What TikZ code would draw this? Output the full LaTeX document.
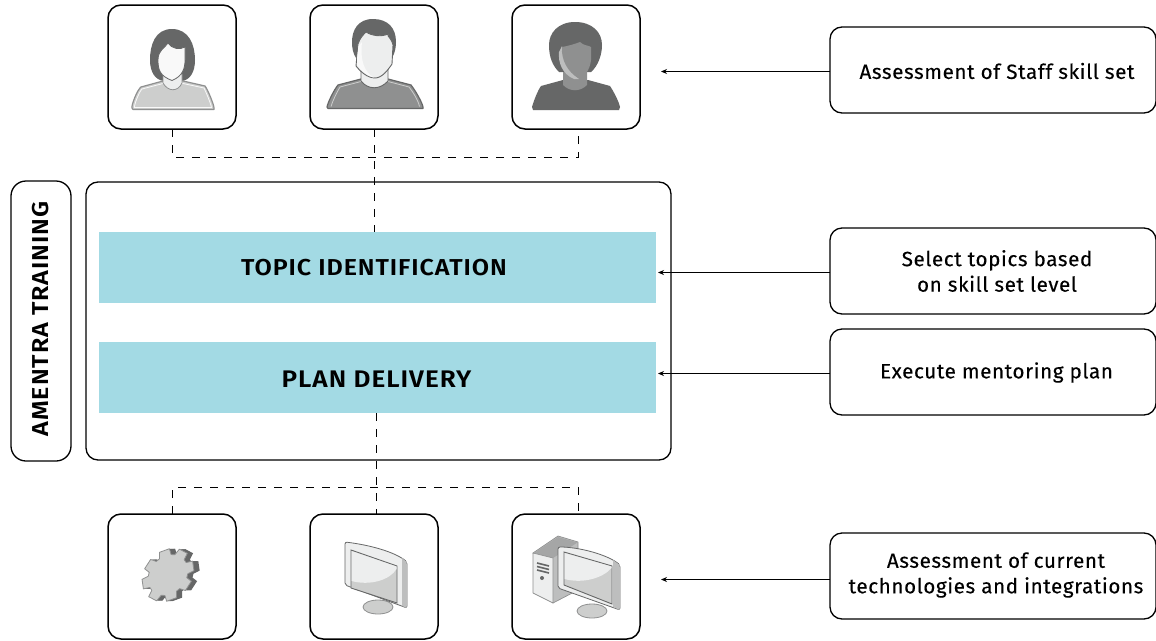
\documentclass[tikz,border=0pt]{standalone}
\usepackage{fontspec}
\setmainfont{Fira Sans}
\newfontfamily\lblfont[LetterSpace=3,FakeBold=0.25]{Fira Sans}
\newfontfamily\hdfont[LetterSpace=4,FakeStretch=1.09]{Fira Sans}[BoldFont=Fira Sans SemiBold]
\usetikzlibrary{arrows.meta}
\definecolor{barblue}{HTML}{A3DAE4}
\definecolor{gA}{HTML}{666767}
\definecolor{gB}{HTML}{8F9090}
\definecolor{gC}{HTML}{CDCECD}
\definecolor{gD}{HTML}{EDEEEE}
\definecolor{gE}{HTML}{BDBEBE}
\definecolor{gF}{HTML}{F9F9F9}
\tikzset{
 x=1pt,y=-1pt,
 iconbox/.style={draw=black,line width=1.5pt,rounded corners=13pt,fill=white},
 frame/.style={draw=black,line width=1.3pt,rounded corners=12pt,fill=white},
 notebox/.style={draw=black,line width=1.3pt,rounded corners=12pt,fill=white,minimum width=326pt,minimum height=86pt,inner sep=0pt},
 bar/.style={fill=barblue,draw=none,minimum width=557pt,minimum height=71pt,inner sep=0pt},
 note/.style={font=\lblfont\fontsize{20.6}{25.5}\selectfont,align=center},
 dashline/.style={draw=black,line width=1.3pt,dash pattern=on 8pt off 8pt},
 arrowline/.style={draw=black,line width=1.2pt,-{Stealth[length=6pt,width=5pt]}},
}
\begin{document}
\begin{tikzpicture}
\useasboundingbox (0,0) rectangle (1156,640);
\begin{scope}
\clip (0,0) rectangle (1156,640);
\coordinate (d1) at (172.5,157.5);
\coordinate (d2) at (578.5,157.5);
\coordinate (d3) at (172.5,487.5);
\coordinate (d4) at (578.5,487.5);
% icon boxes
\node[iconbox,minimum width=128pt,minimum height=124pt,inner sep=0pt] (p1) at (172,67) {};
\node[iconbox,minimum width=128pt,minimum height=124pt,inner sep=0pt] (p2) at (374,67) {};
\node[iconbox,minimum width=128pt,minimum height=124pt,inner sep=0pt] (p3) at (576,67) {};
\node[iconbox,minimum width=128pt,minimum height=125pt,inner sep=0pt] (t1) at (172,576.5) {};
\node[iconbox,minimum width=128pt,minimum height=125pt,inner sep=0pt] (t2) at (374,576.5) {};
\node[iconbox,minimum width=128pt,minimum height=125pt,inner sep=0pt] (t3) at (576,576.5) {};
% main frames
\node[frame,minimum width=585pt,minimum height=278pt,inner sep=0pt] (main) at (378.5,321) {};
\node[frame,rounded corners=15pt,minimum width=60pt,minimum height=280pt,inner sep=0pt] (side) at (41,321) {};
\node[rotate=90,font=\hdfont\bfseries\fontsize{23}{27}\selectfont] (sidet) at (41,319) {AMENTRA TRAINING};
\node[bar] (b1) at (377.5,267.5) {};
\node[font=\hdfont\bfseries\fontsize{23}{27}\selectfont] (b1t) at (374,267.5) {TOPIC IDENTIFICATION};
\node[bar] (b2) at (377.5,377.5) {};
\node[font=\hdfont\bfseries\fontsize{24}{28}\selectfont] (b2t) at (376.5,379) {PLAN DELIVERY};
% right notes
\node[notebox] (n1) at (993,70) {};
\node[note] (n1t) at (997,71) {Assessment of Staff skill set};
\node[notebox] (n2) at (993,271) {};
\node[note] (n2t) at (997,271) {Select topics based\\on skill set level};
\node[notebox] (n3) at (993,372) {};
\node[note] (n3t) at (996.5,372.5) {Execute mentoring plan};
\node[notebox] (n4) at (993,576) {};
\node[note] (n4t) at (996,575) {Assessment of current\\technologies and integrations};
% arrows
\coordinate (a1) at (661,71.5);
\coordinate (a2) at (658,272.5);
\coordinate (a3) at (658,373.5);
\coordinate (a4) at (661,579.5);
\draw[arrowline] (830,71.5) -- (a1);
\draw[arrowline] (830,272.5) -- (a2);
\draw[arrowline] (830,373.5) -- (a3);
\draw[arrowline] (830,579.5) -- (a4);
% dashed
\draw[dashline] (172.5,129) -- (d1) -- (d2) -- (578.5,129);
\draw[dashline] (374.5,129) -- (374.5,232);
\draw[dashline] (172.5,514) -- (d3) -- (d4) -- (578.5,514);
\draw[dashline] (376.5,413) -- (376.5,514);
\end{scope}
% woman
\fill[gA] (172,29) .. controls (155,29) and (150,45) .. (150,60) .. controls (150,72) and (155,80) .. (164,81) -- (182,81) .. controls (190,80) and (195,72) .. (195,60) .. controls (195,45) and (189,29) .. (172,29) -- cycle;
\path[draw=gB,fill=gC,line width=1.2pt,line join=round] (132,108) .. controls (131,106) and (137,90) .. (141,87) -- (163,81) -- (183,81) -- (205,86) .. controls (208,90) and (214,105) .. (214,108) -- (214,109.5) -- (133,109.5) -- cycle;
\path[draw=gF,line width=.8pt,line join=round] (134.5,107.5) .. controls (134,105) and (139,92) .. (142,89) -- (163,83.5) -- (183,83.5) -- (204,88) .. controls (206,92) and (211,104) .. (211.5,107.5) -- cycle;
\path[draw=gB,fill=gD,line width=.8pt] (163,74) -- (163,83) .. controls (168,92) and (178,92) .. (182,83) -- (182,74) -- cycle;
\path[draw=gA,fill=gF,line width=.8pt] (168,43) .. controls (165,48) and (158,50) .. (158,60) .. controls (158,70) and (160,76) .. (172,80.5) .. controls (183,76) and (185,68) .. (185,60) -- (185,47) .. controls (180,50) and (172,49) .. (168,43) -- cycle;
% man
\fill[gA] (373,19) .. controls (358,19) and (352,30) .. (352,42) .. controls (352,48) and (353,53) .. (356,58) -- (392,58) .. controls (395,53) and (396,47) .. (396,42) .. controls (396,28) and (388,19) .. (373,19) -- cycle;
\path[draw=gA,fill=gB,line width=1.2pt,line join=round] (327,107) .. controls (328,102) and (334,90) .. (338,85) -- (361,79) -- (388,79) -- (411,85) .. controls (415,90) and (422,102) .. (423,107) -- (423,108.5) -- (328,108.5) -- cycle;
\path[draw=gC,line width=.8pt,line join=round] (331,106.5) .. controls (333,100) and (337,92) .. (340,87) -- (361,81.5) -- (388,81.5) -- (409,87) .. controls (413,92) and (418,100) .. (419.5,106.5);
\path[draw=gA,fill=gD,line width=.9pt] (361,68) -- (361,81) .. controls (368,90) and (380,90) .. (388,81) -- (388,68) -- cycle;
\path[draw=gA,fill=gD,line width=.9pt] (358,44) .. controls (360,38) and (363,35) .. (366,32) .. controls (372,36) and (382,37) .. (388,34) .. controls (387,37) and (391,37) .. (393,45) -- (392,64) .. controls (388,70) and (382,78) .. (375,78) .. controls (367,78) and (360,71) .. (356,66) -- cycle;
\fill[gF] (358.5,46) .. controls (357,56) and (357,60) .. (357,65) .. controls (361,70) and (366,76) .. (374,77.5) .. controls (364,72) and (360,60) .. (362,42) -- cycle;
% third person
\fill[gA] (575,22) .. controls (558,22) and (549,33) .. (549,45) .. controls (549,58) and (553,66) .. (559,72) -- (591,72) .. controls (598,66) and (602,55) .. (602,45) .. controls (602,32) and (592,22) .. (575,22) -- cycle;
\fill[gA] (532,107) .. controls (534,100) and (538,90) .. (541,86) -- (563,80) -- (588,80) -- (610,86) .. controls (614,92) and (619,102) .. (620,107) -- (619,110) -- (533,110) -- cycle;
\fill[gB] (563,72) -- (563,85) .. controls (570,92) and (580,92) .. (587,85) -- (587,72) -- cycle;
\fill[gE] (559,52) .. controls (558,62) and (562,74) .. (574,79) -- (579,79) .. controls (570,72) and (562,60) .. (562,46) -- cycle;
\fill[gB] (562,47) .. controls (568,46) and (575,44) .. (580,42) .. controls (584,46) and (588,45) .. (591,47) -- (591,60) .. controls (590,70) and (584,78) .. (578,78) .. controls (568,72) and (561,60) .. (562,47) -- cycle;
% gear
\begin{scope}[shift={(168,575)},cm={1,0.22,0,1,(0,0)},rotate=8]
\foreach \dx in {5.5,4.5,3.5,2.5,1.5}{
\fill[gA,shift={(\dx,\dx*0.35)}] (-11:26) \foreach \a in {0,45,...,315}{ -- (\a-11:26) -- (\a+11:26) -- (\a+17:20) -- (\a+28:20)} -- cycle;}
\path[draw=gB,fill=gC,line width=.8pt,line join=round] (-11:26) \foreach \a in {0,45,...,315}{ -- (\a-11:26) -- (\a+11:26) -- (\a+17:20) -- (\a+28:20)} -- cycle;
\end{scope}
% monitor 1
\path[draw=gB,fill=gC,line width=.8pt] (378,607) ellipse [x radius=15pt,y radius=7pt];
\path[draw=gA,fill=gD,line width=.8pt,line join=round,rounded corners=2pt] (345,542) .. controls (370,545) and (395,552) .. (407,562) -- (407,608) -- (345,585) -- cycle;
\fill[gE] (402,558) -- (406.5,562) -- (406.5,607.5) -- (402,606) -- cycle;
\path[draw=gA,fill=gC,line width=.9pt] (351,550) -- (397,566) -- (397,603) -- (351,588) -- cycle;
\fill[gD] (351.5,551) -- (396.5,566.5) -- (396.5,569) .. controls (390,580) and (370,586) .. (351.5,581) -- cycle;
% computer
\path[draw=gB,fill=gE,line width=.7pt,line join=round] (533,553) -- (558,536) -- (578,542) -- (578,590) -- (553,603) -- cycle;
\fill[gB!80!white] (534,553) -- (558,537) -- (577.5,542.5) -- (553,558) -- cycle;
\path[draw=gB,fill=gD,line width=.7pt,line join=round] (533,553) -- (553,558) -- (553,603) -- (533,593) -- cycle;
\foreach \y in {563,566.5,570}{\draw[gA,line width=1.6pt] (537,\y) -- (549,\y+3);}
\fill[gA] (542,578) circle[radius=2pt];
\path[draw=gB,fill=gC,line width=.8pt] (592,611) ellipse [x radius=15pt,y radius=7pt];
\path[draw=gA,fill=gD,line width=.8pt,line join=round,rounded corners=2pt] (558,547) .. controls (580,547) and (608,555) .. (620,565) -- (620,610) -- (558,588) -- cycle;
\fill[gE] (613,560) -- (619.5,565) -- (619.5,609.5) -- (613,607) -- cycle;
\path[draw=gA,fill=gC,line width=.9pt] (564,552) -- (612,566) -- (612,604) -- (564,585) -- cycle;
\fill[gD] (564.5,553) -- (611.5,566.5) -- (611.5,568) .. controls (603,578) and (583,584) .. (564.5,579) -- cycle;
\end{tikzpicture}
\end{document}
